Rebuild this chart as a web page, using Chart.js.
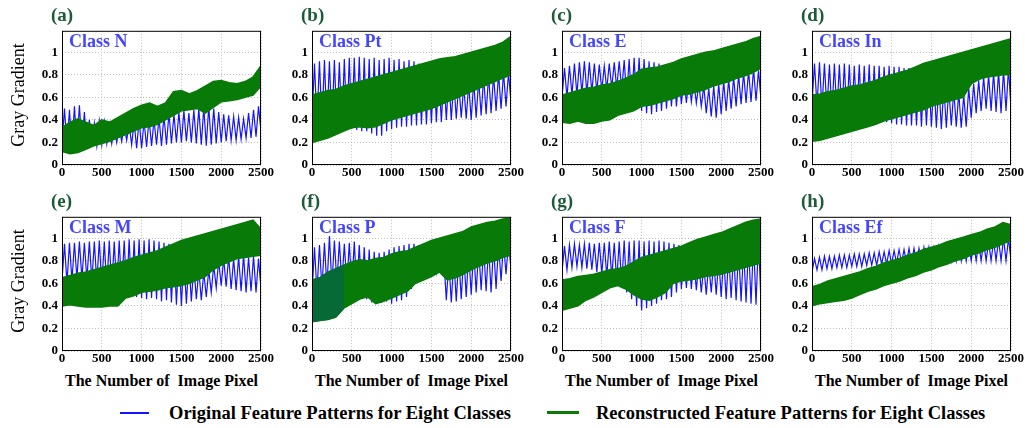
<!DOCTYPE html>
<html lang="en">

<head>
    <meta charset="UTF-8">
    <title>Gray Gradient - Eight Classes</title>
    <script src="https://cdn.jsdelivr.net/npm/chart.js"></script>
    <style>
        body {
            margin: 0;
            background: #fff;
            font-family: "Liberation Serif", "Times New Roman", serif;
        }

        #fig {
            position: relative;
            width: 1025px;
            height: 428px;
            overflow: hidden;
        }

        canvas {
            position: absolute;
        }

        .tag {
            position: absolute;
            font-weight: bold;
            font-size: 19px;
            line-height: 20px;
            color: #1d5a3a;
        }

        .ytitle {
            position: absolute;
            width: 140px;
            text-align: center;
            font-size: 18px;
            line-height: 20px;
            transform: rotate(-90deg);
        }

        .xtitle {
            position: absolute;
            width: 240px;
            text-align: center;
            font-weight: bold;
            font-size: 16px;
            line-height: 18px;
        }

        .leg {
            position: absolute;
            font-weight: bold;
            font-size: 18.5px;
            line-height: 20px;
            white-space: nowrap;
        }

        .sw {
            position: absolute;
        }
    </style>
</head>

<body>
    <div id="fig"></div>

    <script>
        const xTicks = [0, 500, 1000, 1500, 2000, 2500];
        const yTicks = [0, 0.2, 0.4, 0.6, 0.8, 1];
        const panelTags = ['(a)', '(b)', '(c)', '(d)', '(e)', '(f)', '(g)', '(h)'];
        const classNames = ['Class N', 'Class Pt', 'Class E', 'Class In', 'Class M', 'Class P', 'Class F', 'Class Ef'];
        const legendLabels = ['Original Feature Patterns for Eight Classes', 'Reconstructed Feature Patterns for Eight Classes'];

        // original (blue): troughs every 62.5 px from 0 to 2500, peaks half way between
        // reconstructed (green): upper / lower edge of the band every 100 px

        // (a) Class N
        const blueLoN = [0.20, 0.16, 0.15, 0.17, 0.16, 0.15, 0.16, 0.17, 0.18, 0.19, 0.19, 0.20, 0.21, 0.22, 0.18, 0.15, 0.15, 0.16, 0.17, 0.18, 0.17, 0.18, 0.19, 0.20, 0.20, 0.21, 0.20, 0.19, 0.18, 0.17, 0.18, 0.19, 0.20, 0.21, 0.22, 0.22, 0.23, 0.24, 0.24, 0.25, 0.30];
        const blueHiN = [0.50, 0.49, 0.52, 0.53, 0.47, 0.40, 0.37, 0.39, 0.38, 0.36, 0.34, 0.33, 0.35, 0.36, 0.38, 0.40, 0.39, 0.41, 0.40, 0.42, 0.44, 0.46, 0.45, 0.47, 0.48, 0.46, 0.49, 0.50, 0.51, 0.52, 0.50, 0.47, 0.45, 0.44, 0.43, 0.42, 0.41, 0.46, 0.49, 0.52];
        const greenTopN = [0.33, 0.38, 0.41, 0.38, 0.35, 0.40, 0.38, 0.42, 0.46, 0.50, 0.53, 0.55, 0.52, 0.55, 0.65, 0.66, 0.63, 0.66, 0.70, 0.74, 0.75, 0.73, 0.72, 0.74, 0.78, 0.88];
        const greenBotN = [0.12, 0.10, 0.11, 0.14, 0.17, 0.19, 0.21, 0.24, 0.27, 0.30, 0.33, 0.34, 0.36, 0.40, 0.44, 0.48, 0.49, 0.50, 0.46, 0.51, 0.56, 0.57, 0.58, 0.60, 0.62, 0.70];

        // (b) Class Pt
        const blueLoPt = [0.40, 0.38, 0.36, 0.35, 0.35, 0.35, 0.34, 0.33, 0.32, 0.31, 0.30, 0.30, 0.28, 0.26, 0.26, 0.30, 0.32, 0.33, 0.34, 0.34, 0.35, 0.35, 0.36, 0.36, 0.37, 0.38, 0.38, 0.40, 0.40, 0.41, 0.42, 0.41, 0.40, 0.42, 0.44, 0.45, 0.46, 0.48, 0.50, 0.52, 0.55];
        const blueHiPt = [0.90, 0.92, 0.93, 0.92, 0.93, 0.91, 0.94, 0.95, 0.95, 0.96, 0.95, 0.94, 0.95, 0.93, 0.94, 0.95, 0.93, 0.94, 0.92, 0.93, 0.92, 0.90, 0.88, 0.86, 0.85, 0.83, 0.80, 0.78, 0.75, 0.72, 0.70, 0.72, 0.74, 0.76, 0.78, 0.80, 0.80, 0.81, 0.82, 0.82];
        const greenTopPt = [0.62, 0.64, 0.66, 0.67, 0.70, 0.72, 0.74, 0.76, 0.78, 0.80, 0.82, 0.84, 0.86, 0.88, 0.90, 0.92, 0.94, 0.95, 0.96, 0.98, 1.00, 1.02, 1.04, 1.06, 1.09, 1.14];
        const greenBotPt = [0.20, 0.22, 0.24, 0.27, 0.30, 0.33, 0.34, 0.33, 0.34, 0.37, 0.40, 0.42, 0.44, 0.46, 0.48, 0.50, 0.53, 0.56, 0.59, 0.62, 0.65, 0.68, 0.71, 0.74, 0.77, 0.80];

        // (c) Class E
        const blueLoE = [0.60, 0.60, 0.62, 0.62, 0.63, 0.63, 0.64, 0.65, 0.66, 0.67, 0.68, 0.68, 0.66, 0.60, 0.55, 0.52, 0.48, 0.46, 0.45, 0.47, 0.48, 0.50, 0.52, 0.52, 0.54, 0.55, 0.56, 0.55, 0.52, 0.46, 0.43, 0.42, 0.45, 0.48, 0.50, 0.52, 0.54, 0.55, 0.56, 0.57, 0.58];
        const blueHiE = [0.86, 0.88, 0.90, 0.91, 0.92, 0.91, 0.90, 0.89, 0.88, 0.90, 0.91, 0.92, 0.93, 0.94, 0.95, 0.95, 0.94, 0.92, 0.91, 0.90, 0.88, 0.86, 0.84, 0.80, 0.78, 0.76, 0.74, 0.72, 0.70, 0.68, 0.70, 0.72, 0.74, 0.76, 0.78, 0.80, 0.82, 0.84, 0.85, 0.84];
        const greenTopE = [0.62, 0.64, 0.66, 0.68, 0.69, 0.71, 0.72, 0.74, 0.77, 0.80, 0.85, 0.86, 0.87, 0.89, 0.91, 0.94, 0.96, 0.98, 1.00, 1.01, 1.03, 1.05, 1.07, 1.09, 1.12, 1.14];
        const greenBotE = [0.38, 0.37, 0.39, 0.37, 0.37, 0.39, 0.40, 0.44, 0.46, 0.48, 0.52, 0.53, 0.55, 0.57, 0.59, 0.62, 0.63, 0.65, 0.67, 0.70, 0.72, 0.74, 0.77, 0.79, 0.82, 0.86];

        // (d) Class In
        const blueLoIn = [0.55, 0.52, 0.50, 0.48, 0.46, 0.45, 0.44, 0.43, 0.42, 0.41, 0.40, 0.40, 0.39, 0.40, 0.38, 0.38, 0.37, 0.36, 0.36, 0.35, 0.35, 0.35, 0.34, 0.35, 0.34, 0.33, 0.32, 0.33, 0.35, 0.34, 0.33, 0.34, 0.42, 0.46, 0.48, 0.50, 0.48, 0.47, 0.46, 0.48, 0.50];
        const blueHiIn = [0.90, 0.91, 0.90, 0.89, 0.90, 0.89, 0.90, 0.89, 0.88, 0.89, 0.88, 0.89, 0.88, 0.88, 0.87, 0.88, 0.87, 0.87, 0.86, 0.86, 0.85, 0.82, 0.80, 0.78, 0.75, 0.72, 0.70, 0.68, 0.66, 0.64, 0.62, 0.68, 0.72, 0.75, 0.78, 0.80, 0.82, 0.83, 0.84, 0.86];
        const greenTopIn = [0.62, 0.63, 0.65, 0.66, 0.68, 0.70, 0.71, 0.73, 0.75, 0.78, 0.80, 0.82, 0.84, 0.87, 0.90, 0.92, 0.94, 0.96, 0.98, 1.00, 1.02, 1.04, 1.06, 1.08, 1.10, 1.12];
        const greenBotIn = [0.21, 0.22, 0.24, 0.26, 0.28, 0.30, 0.32, 0.34, 0.36, 0.39, 0.41, 0.43, 0.45, 0.47, 0.49, 0.52, 0.54, 0.56, 0.58, 0.60, 0.72, 0.76, 0.78, 0.79, 0.80, 0.80];

        // (e) Class M
        const blueLoM = [0.62, 0.60, 0.62, 0.64, 0.64, 0.63, 0.62, 0.60, 0.58, 0.56, 0.56, 0.55, 0.54, 0.52, 0.50, 0.48, 0.47, 0.46, 0.47, 0.46, 0.44, 0.45, 0.43, 0.41, 0.40, 0.42, 0.44, 0.46, 0.45, 0.48, 0.52, 0.56, 0.58, 0.57, 0.55, 0.54, 0.53, 0.52, 0.53, 0.52, 0.55];
        const blueHiM = [0.95, 0.96, 0.96, 0.97, 0.96, 0.97, 0.97, 0.98, 0.97, 0.98, 0.97, 0.98, 0.98, 0.99, 0.98, 0.99, 0.98, 0.99, 0.98, 0.97, 0.96, 0.95, 0.93, 0.88, 0.84, 0.80, 0.76, 0.72, 0.70, 0.72, 0.76, 0.80, 0.82, 0.84, 0.82, 0.84, 0.85, 0.83, 0.84, 0.82];
        const greenTopM = [0.65, 0.67, 0.69, 0.70, 0.72, 0.74, 0.76, 0.78, 0.80, 0.83, 0.85, 0.87, 0.89, 0.92, 0.95, 0.98, 1.00, 1.02, 1.04, 1.06, 1.08, 1.10, 1.12, 1.14, 1.16, 1.08];
        const greenBotM = [0.40, 0.41, 0.40, 0.39, 0.39, 0.39, 0.40, 0.40, 0.47, 0.49, 0.52, 0.53, 0.54, 0.56, 0.57, 0.58, 0.60, 0.63, 0.66, 0.72, 0.76, 0.79, 0.82, 0.83, 0.84, 0.85];

        // (f) Class P
        const blueLoP = [0.50, 0.52, 0.55, 0.56, 0.58, 0.60, 0.60, 0.58, 0.56, 0.54, 0.50, 0.46, 0.43, 0.42, 0.43, 0.44, 0.42, 0.44, 0.45, 0.48, 0.55, 0.60, 0.62, 0.64, 0.66, 0.70, 0.73, 0.45, 0.43, 0.44, 0.46, 0.48, 0.50, 0.52, 0.54, 0.53, 0.52, 0.55, 0.62, 0.68, 0.72];
        const blueHiP = [0.92, 0.94, 0.96, 1.02, 0.98, 0.97, 0.95, 0.96, 0.97, 0.94, 0.92, 0.90, 0.88, 0.87, 0.88, 0.90, 0.92, 0.93, 0.94, 0.95, 0.95, 0.94, 0.93, 0.92, 0.90, 0.86, 0.82, 0.80, 0.82, 0.84, 0.86, 0.88, 0.90, 0.91, 0.92, 0.93, 0.94, 0.95, 0.96, 0.97];
        const greenTopP = [0.63, 0.65, 0.70, 0.73, 0.76, 0.79, 0.81, 0.80, 0.82, 0.83, 0.86, 0.88, 0.89, 0.92, 0.95, 0.98, 1.00, 1.02, 1.04, 1.06, 1.10, 1.12, 1.14, 1.15, 1.17, 1.18];
        const greenBotP = [0.26, 0.27, 0.28, 0.30, 0.38, 0.42, 0.46, 0.48, 0.42, 0.44, 0.47, 0.50, 0.53, 0.60, 0.63, 0.66, 0.70, 0.63, 0.65, 0.68, 0.72, 0.75, 0.78, 0.80, 0.83, 0.85];
        const tealPointsP = 5; // first part of band (0-400) is a darker teal green

        // (g) Class F
        const blueLoF = [0.70, 0.72, 0.74, 0.75, 0.74, 0.73, 0.72, 0.70, 0.68, 0.66, 0.65, 0.62, 0.58, 0.52, 0.46, 0.40, 0.36, 0.38, 0.40, 0.42, 0.45, 0.46, 0.48, 0.52, 0.55, 0.56, 0.55, 0.54, 0.52, 0.50, 0.52, 0.50, 0.48, 0.46, 0.47, 0.45, 0.44, 0.43, 0.42, 0.41, 0.42];
        const blueHiF = [0.93, 0.94, 0.95, 0.94, 0.95, 0.96, 0.95, 0.96, 0.96, 0.97, 0.96, 0.97, 0.98, 0.97, 0.98, 0.98, 0.97, 0.98, 0.97, 0.98, 0.97, 0.96, 0.95, 0.94, 0.90, 0.86, 0.82, 0.78, 0.76, 0.78, 0.80, 0.82, 0.84, 0.86, 0.88, 0.90, 0.92, 0.95, 0.98, 1.00];
        const greenTopF = [0.63, 0.64, 0.66, 0.67, 0.68, 0.70, 0.72, 0.73, 0.75, 0.79, 0.83, 0.85, 0.87, 0.89, 0.91, 0.93, 0.96, 0.99, 1.01, 1.03, 1.05, 1.08, 1.11, 1.14, 1.16, 1.17];
        const greenBotF = [0.36, 0.38, 0.40, 0.45, 0.48, 0.52, 0.56, 0.58, 0.55, 0.50, 0.46, 0.45, 0.48, 0.52, 0.60, 0.62, 0.63, 0.64, 0.66, 0.67, 0.68, 0.70, 0.72, 0.74, 0.76, 0.78];

        // (h) Class Ef
        const blueLoEf = [0.70, 0.72, 0.72, 0.73, 0.73, 0.74, 0.74, 0.74, 0.75, 0.75, 0.75, 0.76, 0.76, 0.76, 0.77, 0.77, 0.77, 0.78, 0.78, 0.78, 0.78, 0.79, 0.79, 0.79, 0.80, 0.80, 0.80, 0.80, 0.80, 0.80, 0.80, 0.80, 0.80, 0.80, 0.80, 0.80, 0.80, 0.80, 0.80, 0.80, 0.80];
        const blueHiEf = [0.82, 0.83, 0.84, 0.84, 0.84, 0.85, 0.85, 0.85, 0.86, 0.86, 0.86, 0.87, 0.87, 0.88, 0.88, 0.89, 0.89, 0.90, 0.90, 0.91, 0.91, 0.91, 0.92, 0.92, 0.92, 0.93, 0.93, 0.93, 0.94, 0.94, 0.95, 0.95, 0.96, 0.96, 0.97, 0.97, 0.98, 0.99, 1.00, 1.00];
        const greenTopEf = [0.57, 0.59, 0.62, 0.64, 0.66, 0.68, 0.70, 0.73, 0.75, 0.78, 0.80, 0.82, 0.85, 0.87, 0.90, 0.92, 0.94, 0.97, 0.99, 1.01, 1.03, 1.05, 1.08, 1.10, 1.14, 1.12];
        const greenBotEf = [0.40, 0.42, 0.43, 0.44, 0.45, 0.47, 0.50, 0.53, 0.55, 0.58, 0.60, 0.62, 0.65, 0.67, 0.70, 0.72, 0.75, 0.77, 0.80, 0.82, 0.85, 0.87, 0.90, 0.92, 0.95, 0.98];

        const panels = [
            [blueLoN, blueHiN, greenTopN, greenBotN],
            [blueLoPt, blueHiPt, greenTopPt, greenBotPt],
            [blueLoE, blueHiE, greenTopE, greenBotE],
            [blueLoIn, blueHiIn, greenTopIn, greenBotIn],
            [blueLoM, blueHiM, greenTopM, greenBotM],
            [blueLoP, blueHiP, greenTopP, greenBotP],
            [blueLoF, blueHiF, greenTopF, greenBotF],
            [blueLoEf, blueHiEf, greenTopEf, greenBotEf]
        ];

        const BLUE = '#1414ff';
        const GREEN = '#087a08';
        const TEAL = '#066a36';
        const FONT = '"Liberation Serif", "Times New Roman", serif';

        // plot-area boxes in the figure
        const colLeft = [62, 312, 562, 812];
        const rowTop = [27, 213];
        const plotW = 199, plotH = 138;
        const padL = 30, padR = 16, padT = 8, padB = 18;

        function zigzag(lo, hi) {
            const step = 2500 / (lo.length - 1);
            const pts = [];
            lo.forEach((v, i) => {
                pts.push({ x: i * step, y: v });
                if (i < hi.length) pts.push({ x: (i + 0.5) * step, y: hi[i] });
            });
            return pts;
        }

        function edge(vals) {
            const step = 2500 / (vals.length - 1);
            return vals.map((v, i) => ({ x: i * step, y: v }));
        }

        const framePlugin = {
            id: 'frame',
            afterDatasetsDraw(chart, args, opts) {
                const { ctx, chartArea: a } = chart;
                ctx.save();
                ctx.strokeStyle = '#000';
                ctx.lineWidth = 1;
                ctx.strokeRect(a.left + 0.5, a.top + 0.5, a.right - a.left - 1, a.bottom - a.top - 1);
                ctx.font = 'bold 18px ' + FONT;
                ctx.fillStyle = '#4545ff';
                ctx.textBaseline = 'middle';
                ctx.fillText(opts.name, a.left + 7, a.top + 12);
                ctx.restore();
            }
        };

        const fig = document.getElementById('fig');

        function addDiv(cls, text, css) {
            const d = document.createElement('div');
            d.className = cls;
            d.textContent = text;
            Object.assign(d.style, css);
            fig.appendChild(d);
            return d;
        }

        const tickFont = { family: FONT, weight: 'bold', size: 13 };

        panels.forEach(([lo, hi, top, bot], i) => {
            const col = i % 4, row = Math.floor(i / 4);
            const canvas = document.createElement('canvas');
            canvas.width = padL + plotW + padR;
            canvas.height = padT + plotH + padB;
            canvas.style.left = (colLeft[col] - padL) + 'px';
            canvas.style.top = (rowTop[row] - padT) + 'px';
            fig.appendChild(canvas);

            const datasets = [
                { data: zigzag(lo, hi), borderColor: BLUE, borderWidth: 1.2, order: 2, fill: false },
                { data: edge(top), borderColor: GREEN, backgroundColor: GREEN, borderWidth: 1.5, order: 1, fill: '+1' },
                { data: edge(bot), borderColor: GREEN, borderWidth: 1.5, order: 1, fill: false }
            ];
            if (i === 5) {
                datasets.push(
                    { data: edge(top).slice(0, tealPointsP), borderColor: TEAL, backgroundColor: TEAL, borderWidth: 1, order: 0, fill: '+1' },
                    { data: edge(bot).slice(0, tealPointsP), borderColor: TEAL, borderWidth: 1, order: 0, fill: false }
                );
            }

            new Chart(canvas, {
                type: 'line',
                data: { datasets },
                options: {
                    responsive: false,
                    animation: false,
                    events: [],
                    layout: { padding: { left: 0, right: padR, top: padT, bottom: 0 } },
                    elements: { point: { radius: 0 }, line: { tension: 0 } },
                    plugins: { legend: { display: false }, tooltip: { enabled: false }, frame: { name: classNames[i] } },
                    scales: {
                        x: {
                            type: 'linear', min: 0, max: 2500,
                            afterBuildTicks: s => { s.ticks = xTicks.map(v => ({ value: v })); },
                            afterFit: s => { s.height = padB; },
                            grid: { color: '#bdbdbd', lineWidth: 1, drawTicks: false },
                            border: { display: false, dash: [1, 2] },
                            ticks: { color: '#000', padding: 0, maxRotation: 0, autoSkip: false, font: tickFont, callback: v => String(v) }
                        },
                        y: {
                            min: 0, max: 1.19,
                            afterBuildTicks: s => { s.ticks = yTicks.map(v => ({ value: v })); },
                            afterFit: s => { s.width = padL; },
                            grid: { color: '#bdbdbd', lineWidth: 1, drawTicks: false },
                            border: { display: false, dash: [1, 2] },
                            ticks: { color: '#000', padding: 4, autoSkip: false, font: tickFont, callback: v => String(v) }
                        }
                    }
                },
                plugins: [framePlugin]
            });

            addDiv('tag', panelTags[i], { left: (colLeft[col] - 11) + 'px', top: (rowTop[row] - 22) + 'px' });
            if (row === 1) {
                addDiv('xtitle', 'The Number of\u00a0\u00a0Image Pixel', { left: (colLeft[col] + plotW / 2 - 120) + 'px', top: '372px' });
            }
            if (col === 0) {
                addDiv('ytitle', 'Gray Gradient', { left: (18 - 70) + 'px', top: (rowTop[row] + plotH / 2 - 1 - 10) + 'px' });
            }
        });

        // figure legend
        addDiv('sw', '', { left: '120px', top: '412px', width: '29px', height: '2px', background: BLUE });
        addDiv('leg', legendLabels[0], { left: '169px', top: '403px' });
        addDiv('sw', '', { left: '547px', top: '411px', width: '32px', height: '3px', background: GREEN });
        addDiv('leg', legendLabels[1], { left: '596px', top: '403px' });
    </script>
</body>

</html>
